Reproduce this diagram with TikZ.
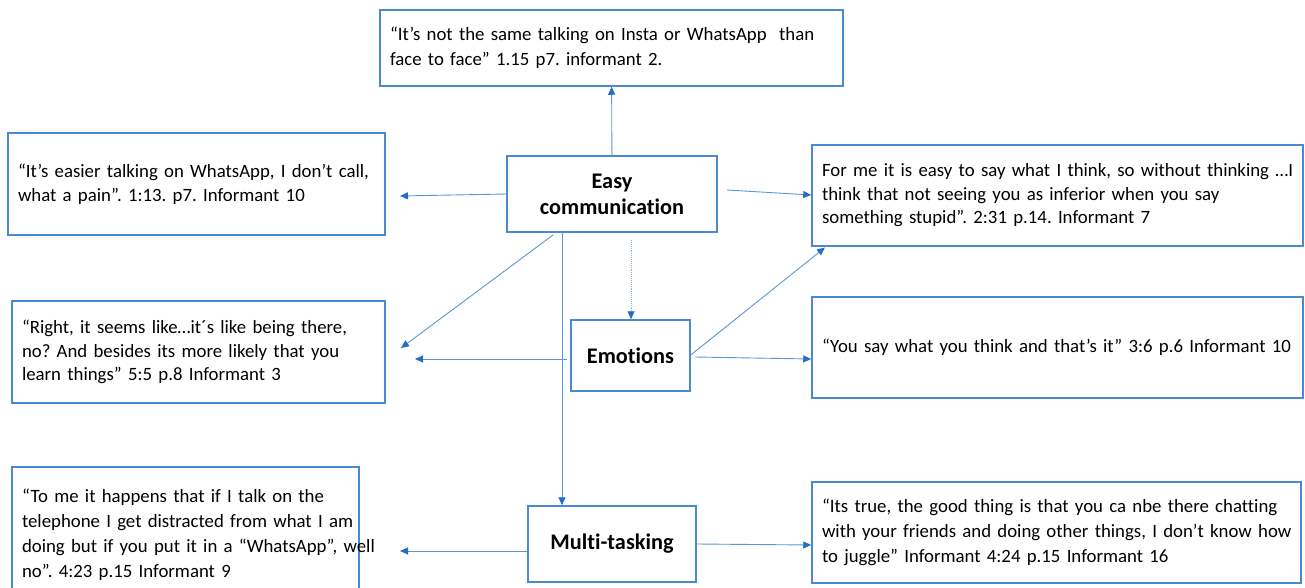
\documentclass[tikz,border=0pt]{standalone}
\usepackage{fontspec}
\setmainfont{Carlito}[Ligatures=NoCommon]
\usetikzlibrary{arrows.meta}
\definecolor{boxblue}{RGB}{74,137,212}
\definecolor{lineblue}{RGB}{88,150,216}
\definecolor{tipblue}{RGB}{36,110,200}
\frenchspacing
\newcommand\qrow[1]{\mbox{#1}}

\begin{document}
\begin{tikzpicture}[x=1pt, y=-1pt, >={Triangle[length=8pt,width=7pt,color=tipblue]},
  every node/.style={font=\fontsize{18.8}{23.5}\selectfont},
  wide/.style={font=\fontsize{18.8}{25}\selectfont},
  quote/.style={draw=boxblue, line width=1.5pt, align=left, inner xsep=10pt, inner ysep=0pt},
  topic/.style={draw=boxblue, line width=1.5pt, align=center, font=\fontsize{22.3}{26}\selectfont\bfseries},
  link/.style={->, draw=lineblue, line width=0.9pt}]
\useasboundingbox (0,0) rectangle (1305,588);
% topics
\node[topic, minimum width=210, minimum height=76] (ec) at (612,194) {Easy\\communication};
\node[topic, minimum width=119, minimum height=71] (em) at (630.5,355.5) {Emotions};
\node[topic, minimum width=168, minimum height=76] (mt) at (612,544) {Multi-tasking};
% quotes
\node[quote, wide, text width=443, minimum height=76] (q1) at (611.5,48)
  {\qrow{“It’s not the same talking on Insta or WhatsApp\ \ than}\\\qrow{face to face” 1.15 p7. informant 2.}};
\node[quote, text width=357, minimum height=102] (qa) at (196.5,184)
  {\qrow{“It’s easier talking on WhatsApp, I don’t call,}\\\qrow{what a pain”. 1:13. p7. Informant 10}};
\node[quote, text width=353, minimum height=102] (qb) at (198.5,352)
  {\qrow{“Right, it seems like…it´s like being there,}\\\qrow{no? And besides its more likely that you}\\\qrow{learn things” 5:5 p.8 Informant 3}};
\node[quote, text width=471, minimum height=101] (qc) at (1057.5,195.5)
  {\qrow{For me it is easy to say what I think, so without thinking …I}\\\qrow{think that not seeing you as inferior when you say}\\\qrow{something stupid”. 2:31 p.14. Informant 7}};
\node[quote, text width=471, minimum height=101] (qd) at (1057.5,347.5)
  {\qrow{“You say what you think and that’s it” 3:6 p.6 Informant 10}};
\node[quote, wide, text width=327, minimum height=136] (qe) at (185.5,535)
  {\qrow{“To me it happens that if I talk on the}\\\qrow{telephone I get distracted from what I am}\\\qrow{doing but if you put it in a “WhatsApp”, well}\\\qrow{no”. 4:23 p.15 Informant 9}};
\node[quote, wide, text width=469, minimum height=101] (qf) at (1056.5,532.5)
  {\qrow{“Its true, the good thing is that you ca nbe there chatting}\\\qrow{with your friends and doing other things, I don’t know how}\\\qrow{to juggle” Informant 4:24 p.15 Informant 16}};
% loose ends
\coordinate (ecL) at (400,196);
\coordinate (ecR) at (727,190);
\coordinate (ecD) at (553,235);
\coordinate (bTip) at (401,348);
\coordinate (ecB) at (562,232);
\coordinate (ecS) at (631,240);
\coordinate (emL) at (567,359);
\coordinate (emTip) at (415,359);
\coordinate (emR) at (695,357);
\coordinate (mtTip) at (400,551);
% connectors
\draw[link] (ec) -- (q1);
\draw[link] (ec.west |- 0,194) -- (ecL);
\draw[link] (ecR) -- (qc.west |- 0,195);
\draw[link] (ecD) -- (bTip);
\draw[link] (ecB) -- (ecB |- mt.north);
\draw[link, densely dotted, draw=lineblue!70] (ecS) -- (ecS |- em.north);
\draw[link] (emL) -- (emTip);
\draw[link] (emR) -- (qd.west |- 0,359);
\draw[link] (em.east |- 0,355) -- (825,247.5);
\draw[link] (mt.west |- 0,551) -- (mtTip);
\draw[link] (mt.east |- 0,544) -- (qf.west |- 0,545);
\end{tikzpicture}
\end{document}
